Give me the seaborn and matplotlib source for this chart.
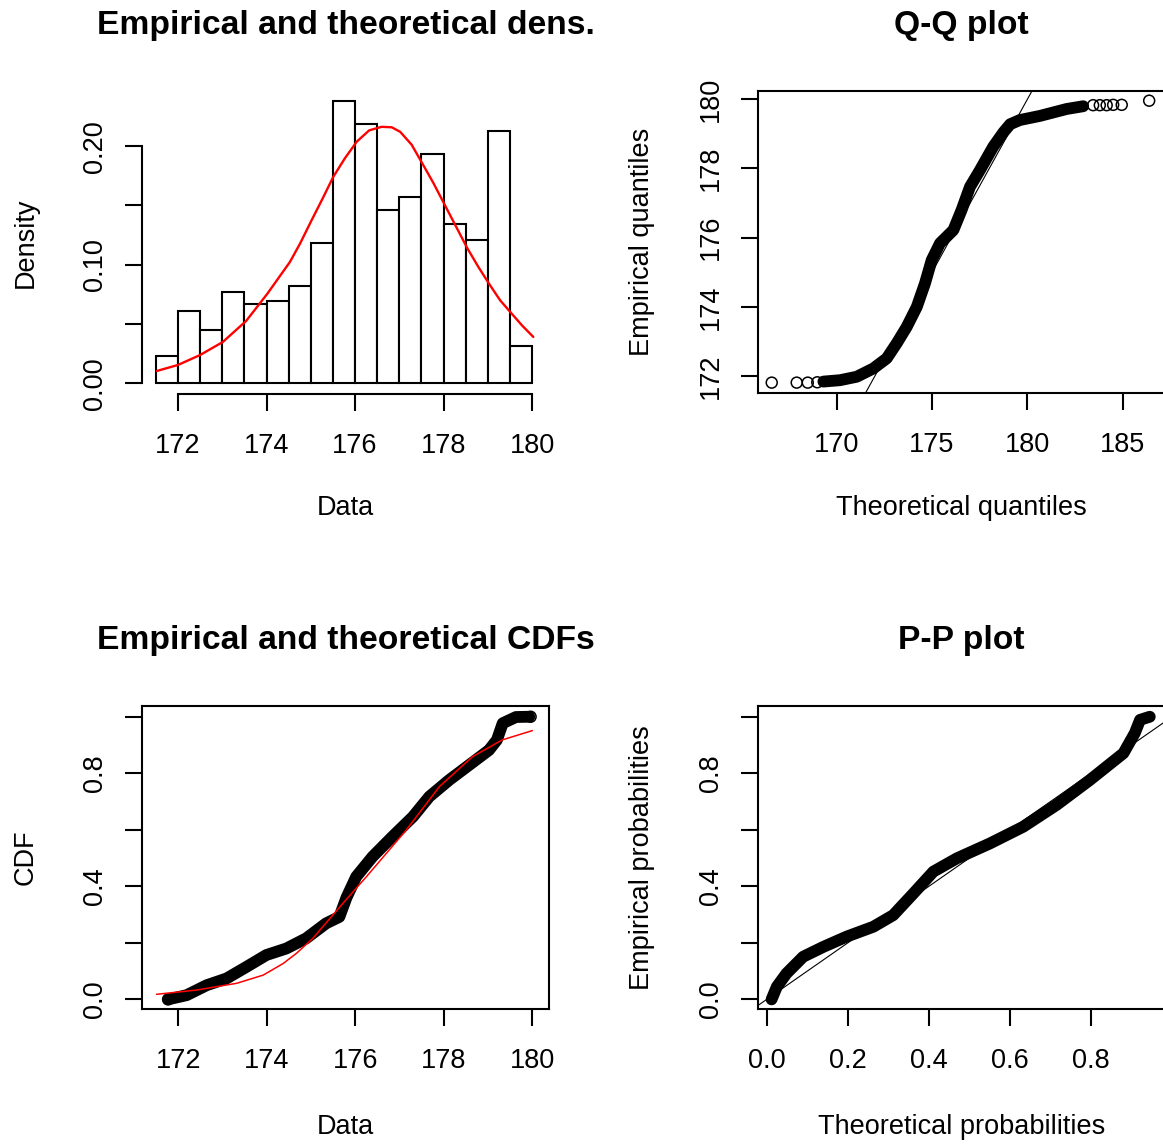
import numpy as np
import pandas as pd
import matplotlib
matplotlib.use("Agg")
import matplotlib.pyplot as plt
import seaborn as sns

# ---------------- data ----------------
hist_breaks = [171.5, 172.0, 172.5, 173.0, 173.5, 174.0, 174.5, 175.0, 175.5,
               176.0, 176.5, 177.0, 177.5, 178.0, 178.5, 179.0, 179.5, 180.0]
hist_density = [0.0228, 0.0608, 0.0448, 0.0769, 0.0673, 0.0695, 0.0820, 0.118,
                0.238, 0.219, 0.146, 0.157, 0.193, 0.134, 0.121, 0.213, 0.0318]

dens_fit_x = [171.52, 172.0, 172.5, 173.01, 173.54, 174.02, 174.53, 174.76, 175.02,
              175.27, 175.51, 175.77, 176.04, 176.32, 176.6, 176.83, 177.02, 177.28,
              177.52, 177.77, 178.05, 178.30, 178.54, 178.79, 179.05, 179.28, 179.54,
              179.77, 180.03]
dens_fit_y = [0.0104, 0.0155, 0.0239, 0.0348, 0.0526, 0.0756, 0.1024, 0.118, 0.1376,
              0.156, 0.1742, 0.1897, 0.2038, 0.2133, 0.2163, 0.2159, 0.2121, 0.2012,
              0.1855, 0.169, 0.1489, 0.131, 0.1138, 0.098, 0.0828, 0.070, 0.0588,
              0.049, 0.0391]

qq_theo = [169.30, 170.17, 171.05, 171.92, 172.62, 173.15, 173.67, 174.20, 174.63,
           174.98, 175.42, 176.12, 176.55, 176.99, 177.51, 178.21, 178.75, 179.10,
           179.60, 180.66, 182.06, 182.93]
qq_emp = [171.84, 171.88, 171.98, 172.22, 172.51, 172.95, 173.42, 174.00, 174.68,
          175.35, 175.84, 176.22, 176.80, 177.47, 177.95, 178.63, 179.05, 179.28,
          179.40, 179.52, 179.72, 179.80]
qq_tail_theo = [166.59, 167.90, 168.48, 168.98, 183.45, 183.80, 184.16, 184.50, 184.95, 186.39]
qq_tail_emp = [171.81, 171.81, 171.81, 171.82, 179.83, 179.83, 179.83, 179.84, 179.84, 179.96]

cdf_data = [171.77, 172.19, 172.64, 173.09, 173.54, 173.99, 174.44, 174.89, 175.34,
            175.64, 175.80, 176.02, 176.39, 176.84, 177.30, 177.67, 178.12, 178.57,
            179.02, 179.20, 179.33, 179.63, 179.93]
cdf_emp = [0.0, 0.015, 0.05, 0.074, 0.115, 0.157, 0.18, 0.216, 0.269,
           0.292, 0.36, 0.434, 0.505, 0.576, 0.646, 0.717, 0.776, 0.829,
           0.882, 0.918, 0.977, 0.999, 1.0]
cdf_tail_x = [171.77, 179.96]
cdf_tail_y = [0.0, 1.0]
cdf_fit_x = [171.51, 172.41, 173.32, 173.92, 174.37, 174.67, 175.04, 175.72, 176.25,
             177.15, 177.90, 178.65, 179.32, 180.0]
cdf_fit_y = [0.018, 0.033, 0.057, 0.086, 0.127, 0.163, 0.216, 0.34, 0.434,
             0.599, 0.753, 0.859, 0.918, 0.951]

pp_theo = [0.012, 0.025, 0.049, 0.090, 0.140, 0.197, 0.263, 0.312, 0.362, 0.411,
           0.469, 0.551, 0.633, 0.715, 0.797, 0.880, 0.908, 0.921, 0.945]
pp_emp = [0.0, 0.045, 0.092, 0.151, 0.186, 0.222, 0.257, 0.298, 0.375, 0.452,
          0.499, 0.552, 0.611, 0.688, 0.776, 0.871, 0.942, 0.989, 1.0]

titles = ["Empirical and theoretical dens.", "Q-Q plot",
          "Empirical and theoretical CDFs", "P-P plot"]

# ---------------- style ----------------
sns.set_theme(style="white")
plt.rcParams["font.family"] = ["Liberation Sans", "DejaVu Sans"]
plt.rcParams.update({
    "axes.linewidth": 1.5, "axes.edgecolor": "black",
    "xtick.major.size": 12.5, "ytick.major.size": 12.5,
    "xtick.major.width": 1.5, "ytick.major.width": 1.5,
    "xtick.major.pad": 15.5, "ytick.major.pad": 12,
    "xtick.labelsize": 19.5, "ytick.labelsize": 19.5, "axes.labelsize": 19.5,
    "xtick.color": "black", "ytick.color": "black", "text.color": "black",
    "axes.labelcolor": "black", "xtick.bottom": True, "ytick.left": True,
    "xtick.direction": "out", "ytick.direction": "out",
})

W, H = 1163, 1147
fig = plt.figure(figsize=(W / 100, H / 100), dpi=100)
fig.patch.set_facecolor("white")


def px_axes(l, t, r, b):
    return fig.add_axes([l / W, 1 - b / H, (r - l) / W, (b - t) / H])


ax1 = px_axes(142, 91, 549, 394)
ax2 = px_axes(758, 91, 1165, 393)
ax3 = px_axes(142, 706, 549, 1009)
ax4 = px_axes(758, 706, 1165, 1009)


def decorate(ax, title, xlabel, ylabel, xl_y=-0.38, yl_x=-0.286):
    ax.text(0.5, 1 + 57 / 303, title, transform=ax.transAxes, ha="center",
            va="baseline", fontsize=24.2, fontweight="bold")
    ax.set_xlabel(xlabel)
    ax.set_ylabel(ylabel)
    ax.xaxis.set_label_coords(0.5, xl_y)
    ax.xaxis.label.set_va("center")
    ax.yaxis.set_label_coords(yl_x, 0.5)
    ax.yaxis.label.set_va("center")
    for lab in ax.get_yticklabels():
        lab.set_rotation(90)
        lab.set_va("center")
    ax.grid(False)


# ---- 1: histogram + fitted density ----
centers = [(a + b) / 2 for a, b in zip(hist_breaks[:-1], hist_breaks[1:])]
hdf = pd.DataFrame({"x": centers, "w": hist_density})
sns.histplot(data=hdf, x="x", weights="w", bins=hist_breaks, stat="count",
             color="white", edgecolor="black", linewidth=1.5, alpha=1, ax=ax1)
sns.lineplot(x=dens_fit_x, y=dens_fit_y, color="red", linewidth=1.7,
             sort=False, estimator=None, ax=ax1)
ax1.lines[-1].set_solid_joinstyle("round")
ax1.set_xlim(171.186, 180.384)
ax1.set_ylim(-0.009, 0.2465)
ax1.set_xticks([172, 174, 176, 178, 180])
ax1.set_xticklabels(["172", "174", "176", "178", "180"])
ax1.set_yticks([0.0, 0.05, 0.10, 0.15, 0.20])
ax1.set_yticklabels(["0.00", "", "0.10", "", "0.20"])
ax1.spines["top"].set_visible(False)
ax1.spines["right"].set_visible(False)
ax1.spines["left"].set_bounds(0.0, 0.20)
ax1.spines["bottom"].set_bounds(172, 180)
decorate(ax1, titles[0], "Data", "Density", xl_y=-0.376)


def band(ax, x, y, lw=8.5):
    sns.lineplot(x=x, y=y, color="black", linewidth=lw, sort=False,
                 estimator=None, ax=ax, zorder=3)
    ln = ax.lines[-1]
    ln.set_solid_capstyle("round")
    ln.set_solid_joinstyle("round")


# ---- 2: Q-Q ----
ax2.axline((170, 170), slope=1, color="black", linewidth=0.8, zorder=2)
band(ax2, qq_theo, qq_emp, lw=8.5)
sns.scatterplot(x=qq_tail_theo, y=qq_tail_emp, marker="o", s=62,
                facecolor="none", edgecolor="black", linewidth=1.1, ax=ax2, zorder=4)
ax2.set_xlim(165.87, 187.22)
ax2.set_ylim(171.51, 180.24)
ax2.set_xticks([170, 175, 180, 185])
ax2.set_xticklabels(["170", "175", "180", "185"])
ax2.set_yticks([172, 174, 176, 178, 180])
ax2.set_yticklabels(["172", "174", "176", "178", "180"])
decorate(ax2, titles[1], "Theoretical quantiles", "Empirical quantiles", xl_y=-0.38)

# ---- 3: CDFs ----
band(ax3, cdf_data, cdf_emp, lw=8.5)
sns.scatterplot(x=cdf_tail_x, y=cdf_tail_y, marker="o", s=62,
                facecolor="none", edgecolor="black", linewidth=1.1, ax=ax3, zorder=4)
sns.lineplot(x=cdf_fit_x, y=cdf_fit_y, color="red", linewidth=1.1,
             sort=False, estimator=None, ax=ax3, zorder=5)
ax3.set_xlim(171.18, 180.376)
ax3.set_ylim(-0.034, 1.038)
ax3.set_xticks([172, 174, 176, 178, 180])
ax3.set_xticklabels(["172", "174", "176", "178", "180"])
ax3.set_yticks([0.0, 0.2, 0.4, 0.6, 0.8, 1.0])
ax3.set_yticklabels(["0.0", "", "0.4", "", "0.8", ""])
decorate(ax3, titles[2], "Data", "CDF", xl_y=-0.39)

# ---- 4: P-P ----
ax4.axline((0, 0), slope=1, color="black", linewidth=0.8, zorder=2)
band(ax4, pp_theo, pp_emp, lw=8.5)
ax4.set_xlim(-0.0215, 0.9825)
ax4.set_ylim(-0.034, 1.038)
ax4.set_xticks([0.0, 0.2, 0.4, 0.6, 0.8])
ax4.set_xticklabels(["0.0", "0.2", "0.4", "0.6", "0.8"])
ax4.set_yticks([0.0, 0.2, 0.4, 0.6, 0.8, 1.0])
ax4.set_yticklabels(["0.0", "", "0.4", "", "0.8", ""])
decorate(ax4, titles[3], "Theoretical probabilities", "Empirical probabilities", xl_y=-0.39)

for ax in (ax2, ax3, ax4):
    for s in ax.spines.values():
        s.set_visible(True)
        s.set_color("black")
        s.set_linewidth(1.5)

fig.savefig("out.png", dpi=100, facecolor="white")
